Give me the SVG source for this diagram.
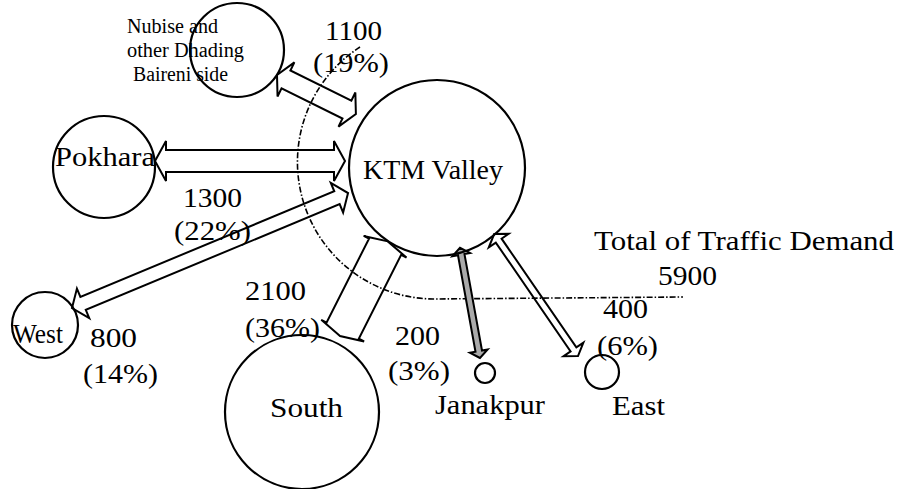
<svg xmlns="http://www.w3.org/2000/svg" width="901" height="489" viewBox="0 0 901 489">
<style>
.node{fill:none;stroke:#000;stroke-width:2.2}
.arr{fill:none;stroke:#000;stroke-width:2;stroke-linejoin:miter}
.t{font-family:"Liberation Serif","Times New Roman",serif;fill:#000;font-size:28px}
.s{font-family:"Liberation Serif","Times New Roman",serif;fill:#000;font-size:20px}
.guide{fill:none;stroke:#000;stroke-width:1.6;stroke-dasharray:6 2 1.5 2}
</style>
<rect width="901" height="489" fill="#fff"/>
<g id="guides">
<path class="guide" d="M360,47 A137,137 0 0 0 433,299 L683,297"/>
</g>
<g id="connectors">
<polygon class="arr" transform="translate(277,75) rotate(26.3)" points="0,0 10,-19 10,-10 78,-10 78,-19 88,0 78,19 78,10 10,10 10,19"/>
<polygon class="arr" transform="translate(155,161)" points="0,0 11,-20 11,-11 179,-11 179,-20 190,0 179,20 179,11 11,11 11,20"/>
<polygon class="arr" transform="translate(72,308) rotate(-22.6)" points="0,0 12,-16 12,-7 287,-7 287,-16 299,0 287,16 287,7 12,7 12,16"/>
<polygon class="arr" transform="translate(340,336) rotate(-63.2)" points="0,0 6,-24 6,-18 100,-18 100,-24 106,0 100,24 100,18 6,18 6,24"/>
<polygon class="arr" transform="translate(480,358) rotate(-100.3)" style="fill:#aaa" points="0,0 7,-9 7,-3.3 105,-3.3 105,-9 112,0 105,9 105,3.3 7,3.3 7,9"/>
<polygon class="arr" transform="translate(578,356) rotate(-124.5)" points="0,0 8,-12 8,-3.5 140,-3.5 140,-12 148,0 140,12 140,3.5 8,3.5 8,12"/>
</g>
<g id="ktm">
<circle class="node" cx="437" cy="168" r="88"/>
<text class="t" x="363" y="179" font-size="27" textLength="140" lengthAdjust="spacingAndGlyphs">KTM Valley</text>
</g>
<g id="nubise">
<circle class="node" cx="237" cy="50" r="47"/>
<text class="s" x="127" y="33" textLength="91" lengthAdjust="spacingAndGlyphs">Nubise and</text>
<text class="s" x="127" y="57" textLength="117" lengthAdjust="spacingAndGlyphs">other Dhading</text>
<text class="s" x="133" y="81" textLength="95" lengthAdjust="spacingAndGlyphs">Baireni side</text>
</g>
<g id="pokhara">
<circle class="node" cx="104" cy="167" r="51"/>
<text class="t" x="55" y="166" font-size="30" textLength="100" lengthAdjust="spacingAndGlyphs">Pokhara</text>
</g>
<g id="west">
<circle class="node" cx="45" cy="325" r="33"/>
<text class="t" x="13" y="343" font-size="23" textLength="50" lengthAdjust="spacingAndGlyphs">West</text>
</g>
<g id="south">
<circle class="node" cx="302" cy="412" r="77"/>
<text class="t" x="270" y="417" font-size="30" textLength="73" lengthAdjust="spacingAndGlyphs">South</text>
</g>
<g id="janakpur">
<circle class="node" cx="485" cy="373" r="10"/>
<text class="t" x="435" y="414" font-size="30" textLength="110" lengthAdjust="spacingAndGlyphs">Janakpur</text>
</g>
<g id="east">
<circle class="node" cx="602" cy="372" r="17"/>
<text class="t" x="612" y="415" textLength="53" lengthAdjust="spacingAndGlyphs">East</text>
</g>
<g id="labels">
<text class="t" x="325" y="40" textLength="57" lengthAdjust="spacingAndGlyphs">1100</text>
<text class="t" x="313" y="72" textLength="76" lengthAdjust="spacingAndGlyphs">(19%)</text>
<text class="t" x="183" y="207" textLength="59" lengthAdjust="spacingAndGlyphs">1300</text>
<text class="t" x="174" y="240" textLength="77" lengthAdjust="spacingAndGlyphs">(22%)</text>
<text class="t" x="90" y="347" textLength="47" lengthAdjust="spacingAndGlyphs">800</text>
<text class="t" x="83" y="383" textLength="75" lengthAdjust="spacingAndGlyphs">(14%)</text>
<text class="t" x="245" y="300" textLength="61" lengthAdjust="spacingAndGlyphs">2100</text>
<text class="t" x="245" y="337" textLength="75" lengthAdjust="spacingAndGlyphs">(36%)</text>
<text class="t" x="395" y="345" textLength="45" lengthAdjust="spacingAndGlyphs">200</text>
<text class="t" x="388" y="380" textLength="62" lengthAdjust="spacingAndGlyphs">(3%)</text>
<text class="t" x="603" y="318" textLength="45" lengthAdjust="spacingAndGlyphs">400</text>
<text class="t" x="597" y="355" textLength="61" lengthAdjust="spacingAndGlyphs">(6%)</text>
<text class="t" x="594" y="250" font-size="29" textLength="300" lengthAdjust="spacingAndGlyphs">Total of Traffic Demand</text>
<text class="t" x="658" y="285" textLength="59" lengthAdjust="spacingAndGlyphs">5900</text>
</g>
</svg>
